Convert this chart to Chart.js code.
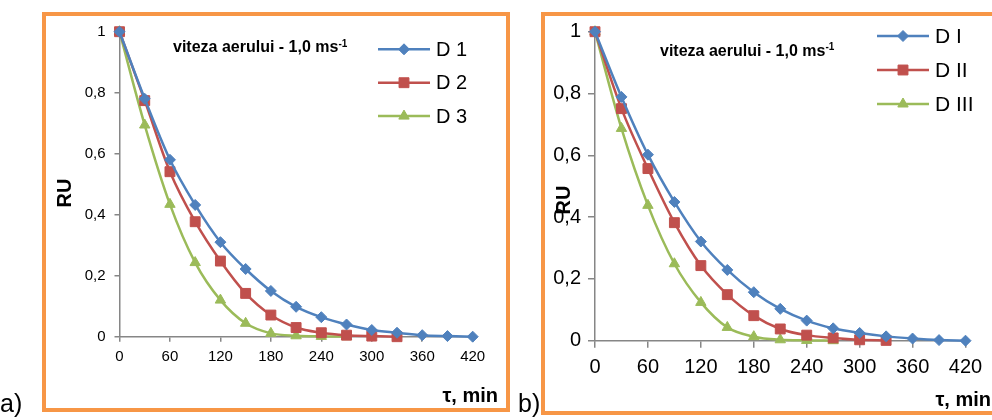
<!DOCTYPE html>
<html lang="ro">
<head>
<meta charset="UTF-8">
<title>RU - viteza aerului 1,0 ms-1</title>
<script src="https://cdn.jsdelivr.net/npm/chart.js"></script>
<style>
  body {
    margin: 0;
    width: 992px;
    height: 420px;
    overflow: hidden;
    position: relative;
    background: #fff;
    font-family: Arial, "Liberation Sans", sans-serif;
  }
  .box {
    position: absolute;
    box-sizing: border-box;
    border: 4.5px solid #f79646;
  }
  #boxA { left: 42px; top: 12px; width: 468px; height: 400px; }
  #boxB { left: 541px; top: 12px; width: 470px; height: 403px; }
  .panel { position: absolute; top: 0; }
  #panelA { left: 0; }
  #panelB { left: 512px; }
</style>
</head>
<body>
<div class="box" id="boxA"></div>
<div class="box" id="boxB"></div>
<canvas class="panel" id="panelA" width="520" height="420"></canvas>
<canvas class="panel" id="panelB" width="480" height="420"></canvas>

<script>
// timp de uscare, min
const times = [0, 30, 60, 90, 120, 150, 180, 210, 240, 270, 300, 330, 360, 390, 420];
const xTicks = [0, 60, 120, 180, 240, 300, 360, 420];
const yTickLabels = ["0", "0,2", "0,4", "0,6", "0,8", "1"];

// a) D 1, D 2, D 3
const labelsA = ["D 1", "D 2", "D 3"];
const ruD1 = [1, 0.78, 0.58, 0.432, 0.31, 0.222, 0.15, 0.098, 0.064, 0.04, 0.022, 0.013, 0.005, 0.002, 0];
const ruD2 = [1, 0.774, 0.541, 0.377, 0.248, 0.142, 0.071, 0.03, 0.013, 0.005, 0.002, 0];
const ruD3 = [1, 0.694, 0.434, 0.243, 0.12, 0.044, 0.011, 0.003, 0.001, 0];

// b) D I, D II, D III
const labelsB = ["D I", "D II", "D III"];
const ruDI = [1, 0.789, 0.602, 0.449, 0.321, 0.229, 0.157, 0.103, 0.065, 0.04, 0.025, 0.014, 0.007, 0.002, 0];
const ruDII = [1, 0.751, 0.557, 0.382, 0.243, 0.149, 0.081, 0.038, 0.018, 0.009, 0.003, 0.001];
const ruDIII = [1, 0.687, 0.438, 0.249, 0.124, 0.043, 0.013, 0.003, 0.001, 0];

const colors = ["#4f81bd", "#c0504d", "#9bbb59"];
const markers = ["rectRot", "rect", "triangle"];
const markerSizes = [5.5, 7, 6];
const FONT = 'Arial, "Liberation Sans", sans-serif';
const AXIS = "#868686";

function toPoints(values) {
  return values.map((v, i) => ({ x: times[i], y: v }));
}

// legend in Excel style: short line with the marker in the middle
const lineLegend = {
  id: "lineLegend",
  afterDraw(chart, args, o) {
    const ctx = chart.ctx;
    chart.data.datasets.forEach((ds, i) => {
      const y = o.y + i * o.gap;
      ctx.save();
      ctx.strokeStyle = ds.borderColor;
      ctx.lineWidth = ds.borderWidth;
      ctx.beginPath();
      ctx.moveTo(o.x, y);
      ctx.lineTo(o.x + o.len, y);
      ctx.stroke();
      ctx.fillStyle = ds.pointBackgroundColor;
      ctx.lineWidth = 1;
      Chart.helpers.drawPoint(ctx, { pointStyle: ds.pointStyle, radius: ds.pointRadius, borderWidth: 1, rotation: 0 }, o.x + o.len / 2, y);
      ctx.fillStyle = "#000";
      ctx.font = o.font + "px " + FONT;
      ctx.textBaseline = "middle";
      ctx.textAlign = "left";
      ctx.fillText(ds.label, o.x + o.len + 6, y + 1);
      ctx.restore();
    });
  }
};

// free texts: axis names, panel letter, air speed note
const panelText = {
  id: "panelText",
  afterDraw(chart, args, o) {
    const ctx = chart.ctx;
    o.items.forEach(t => {
      ctx.save();
      ctx.fillStyle = "#000";
      ctx.font = t.font + " " + FONT;
      ctx.textBaseline = "middle";
      ctx.textAlign = t.align || "left";
      ctx.translate(t.x, t.y);
      if (t.rotate) ctx.rotate(-Math.PI / 2);
      ctx.fillText(t.text, 0, 0);
      if (t.sup) {
        const w = ctx.measureText(t.text).width;
        ctx.font = t.supFont + " " + FONT;
        ctx.fillText(t.sup, w, -4);
      }
      ctx.restore();
    });
  }
};

function makeChart(id, labels, series, c) {
  const datasets = series.map((vals, i) => ({
    label: labels[i],
    data: toPoints(vals),
    borderColor: colors[i],
    backgroundColor: colors[i],
    pointBackgroundColor: colors[i],
    pointBorderColor: colors[i],
    pointBorderWidth: 1,
    pointStyle: markers[i],
    pointRadius: markerSizes[i],
    borderWidth: 2.5,
    cubicInterpolationMode: "monotone",
    clip: false
  }));

  return new Chart(document.getElementById(id), {
    type: "line",
    data: { datasets: datasets },
    options: {
      responsive: false,
      animation: false,
      devicePixelRatio: 1,
      layout: { padding: c.padding },
      scales: {
        x: {
          type: "linear",
          min: 0,
          max: 420,
          afterBuildTicks: s => { s.ticks = xTicks.map(v => ({ value: v })); },
          afterFit: s => { s.height = 45; },
          border: { color: AXIS, width: 1.5 },
          grid: { drawOnChartArea: false, color: AXIS, lineWidth: 1.5, tickLength: c.tickLen },
          ticks: { color: "#000", font: { family: FONT, size: c.tickFont }, padding: c.xPad, maxRotation: 0, autoSkip: false }
        },
        y: {
          min: 0,
          max: 1,
          ticks: {
            stepSize: 0.2,
            color: "#000",
            font: { family: FONT, size: c.tickFont },
            padding: c.yPad,
            callback: (v, i) => yTickLabels[i]
          },
          afterFit: s => { s.width = 60; },
          border: { color: AXIS, width: 1.5 },
          grid: { drawOnChartArea: false, color: AXIS, lineWidth: 1.5, tickLength: c.tickLen }
        }
      },
      plugins: {
        legend: { display: false },
        tooltip: { enabled: false },
        lineLegend: c.legend,
        panelText: { items: c.texts }
      }
    },
    plugins: [lineLegend, panelText]
  });
}

makeChart("panelA", labelsA, [ruD1, ruD2, ruD3], {
  padding: { left: 59.5, right: 47.3, top: 31.7, bottom: 38.3 },
  tickFont: 15, tickLen: 5, xPad: 6, yPad: 9,
  legend: { x: 378, y: 49.3, gap: 33.4, len: 52, font: 20 },
  texts: [
    { text: "viteza aerului - 1,0 ms", sup: "-1", font: "bold 16px", supFont: "bold 10px", x: 173, y: 48 },
    { text: "RU", font: "bold 20px", x: 65, y: 193, rotate: true, align: "center" },
    { text: "τ, min", font: "bold 20px", x: 498, y: 396, align: "right" },
    { text: "a)", font: "25px", x: 0, y: 405 }
  ]
});

makeChart("panelB", labelsB, [ruDI, ruDII, ruDIII], {
  padding: { left: 23, right: 26.5, top: 31.7, bottom: 34.3 },
  tickFont: 20, tickLen: 7, xPad: 8, yPad: 7,
  legend: { x: 365, y: 36, gap: 34, len: 52, font: 21 },
  texts: [
    { text: "viteza aerului - 1,0 ms", sup: "-1", font: "bold 16px", supFont: "bold 10px", x: 148, y: 51.7 },
    { text: "RU", font: "bold 20px", x: 52, y: 200, rotate: true, align: "center" },
    { text: "τ, min", font: "bold 20px", x: 479, y: 400, align: "right" },
    { text: "b)", font: "25px", x: 6, y: 405 }
  ]
});
</script>
</body>
</html>
